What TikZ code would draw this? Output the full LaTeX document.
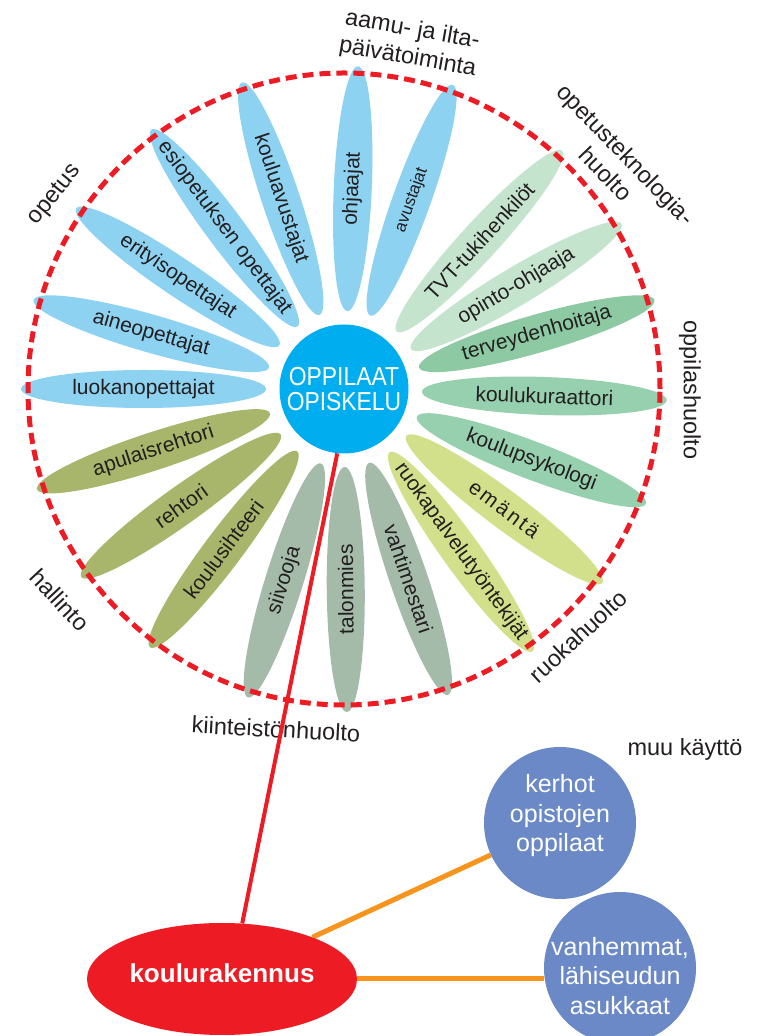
\documentclass[tikz,border=0pt]{standalone}
\usepackage{fontspec}
\setmainfont{Liberation Sans}
\newfontfamily\condfont[FakeStretch=0.88]{Liberation Sans}
\usetikzlibrary{shapes.geometric,calc}
\definecolor{petblue}{HTML}{8ED2F2}
\definecolor{centerblue}{HTML}{00AEEF}
\definecolor{mint}{HTML}{C5E4CE}
\definecolor{grA}{HTML}{8DCAA3}
\definecolor{grB}{HTML}{97D0AF}
\definecolor{ygreen}{HTML}{D3E08B}
\definecolor{ggreen}{HTML}{A3BBA8}
\definecolor{olive}{HTML}{A8B66B}
\definecolor{bubblue}{HTML}{6A89C6}
\definecolor{redc}{HTML}{ED1C24}
\definecolor{orangec}{HTML}{F7941E}
\definecolor{txt}{HTML}{231F20}
\pgfdeclarelayer{back}
\pgfdeclarelayer{mid}
\pgfsetlayers{back,mid,main}
\tikzset{
  petal/.style={ellipse, minimum width=245pt, minimum height=38pt, inner sep=0pt},
  ptext/.style={inner sep=0pt, text=txt, font=\fontsize{21}{21}\selectfont},
  grouplabel/.style={inner sep=0pt, text=txt, align=center, font=\fontsize{23.5}{28}\selectfont},
  dashcirc/.style={draw=redc, line width=5pt, dash pattern=on 11pt off 6pt},
  redline/.style={draw=redc, line width=4pt},
  orangeline/.style={draw=orangec, line width=5pt},
  bubble/.style={circle, fill=bubblue, minimum size=152pt, inner sep=0pt},
  bubtext/.style={inner sep=0pt, text=white, align=center, font=\fontsize{25}{29.5}\selectfont},
}
\begin{document}
\begin{tikzpicture}[x=1pt,y=1pt]
\useasboundingbox (0,0) rectangle (763,1036);
\clip (0,0) rectangle (763,1036);
\coordinate (C) at (344,647);

\begin{pgfonlayer}{back}
\foreach \n/\a/\r/\c/\t in {
  1/180/0/petblue/luokanopettajat,
  2/164/-16/petblue/aineopettajat,
  3/146/-34/petblue/erityisopettajat,
  4/126.6/-53.4/petblue/esiopetuksen opettajat,
  5/108.4/-71.6/petblue/kouluavustajat,
  6/87.5/87.5/petblue/ohjaajat,
  7/70.3/70.3/petblue/{\fontsize{17}{17}\selectfont avustajat},
  8/47.5/47.5/mint/TVT-tukihenkilöt,
  9/30.8/30.8/mint/opinto-ohjaaja,
  10/16/16/grA/terveydenhoitaja,
  11/-2/-2/grB/koulukuraattori,
  12/-20.8/-20.8/grB/koulupsykologi,
  13/-36.9/-36.9/ygreen/{e\kern2.5pt m\kern2.5pt ä\kern2.5pt n\kern2.5pt t\kern2.5pt ä},
  14/-54.3/-54.3/ygreen/ruokapalvelutyöntekijät,
  15/-71.2/-71.2/ggreen/vahtimestari,
  16/-89.5/90.5/ggreen/talonmies,
  17/-107.3/72.7/ggreen/siivooja,
  18/-126.9/53.1/olive/koulusihteeri,
  19/-144.4/35.6/olive/rehtori,
  20/-161.9/18.1/olive/apulaisrehtori}
{
  \node[petal, fill=\c, rotate=\r] (p\n) at ($(C)+(\a:200.5pt)$) {};
  \node[ptext, rotate=\r] (t\n) at (p\n.center) {\t};
}
\draw[dashcirc] (C) circle[radius=316pt];

\node[grouplabel, rotate=-10] (lab1) at (410,992) {aamu- ja ilta-\\päivätoiminta};
\node[grouplabel, rotate=-46] (lab2) at (616,872) {opetusteknologia-\\huolto};
\node[grouplabel, rotate=51] (lab3) at (55,841) {opetus};
\node[grouplabel, rotate=-90] (lab4) at (690,646) {oppilashuolto};
\node[grouplabel, rotate=43] (lab5) at (578,400) {ruokahuolto};
\node[grouplabel, rotate=-3] (lab6) at (276,307) {kiinteistönhuolto};
\node[grouplabel, rotate=-47] (lab7) at (60,436) {hallinto};
\node[grouplabel] (lab8) at (685,287) {muu käyttö};
\end{pgfonlayer}

\node[circle, fill=centerblue, minimum size=129pt, inner sep=0pt] (oc) at (C) {};
\node[inner sep=0pt, text=white, align=center, font=\condfont\fontsize{26}{25}\selectfont] (oct) at (oc.center) {OPPILAAT\\OPISKELU};

\node[ellipse, fill=redc, minimum width=270pt, minimum height=112pt, inner sep=0pt] (kr) at (222,57) {};
\node[inner sep=0pt, text=white, font=\bfseries\fontsize{26}{26}\selectfont] (krt) at (222,63) {koulurakennus};

\node[bubble] (kh) at (560,213) {};
\node[bubtext] (kht) at (560,220) {kerhot\\opistojen\\oppilaat};
\node[bubble] (vh) at (620,68) {};
\node[bubtext] (vht) at (620,60) {vanhemmat,\\lähiseudun\\asukkaat};

\begin{pgfonlayer}{mid}
\draw[redline] (oc.-96) -- (kr.70);
\draw[orangeline] (kr) -- (kh);
\draw[orangeline] (kr.east) -- (kr.east -| vh.west);
\end{pgfonlayer}
\end{tikzpicture}
\end{document}
